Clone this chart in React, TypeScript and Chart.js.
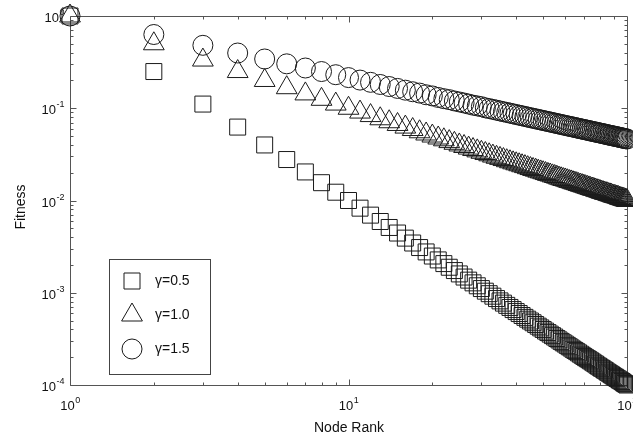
import React, { useEffect, useRef } from 'react';
import { Chart, registerables } from 'chart.js';

Chart.register(...registerables);

const ranks = [
  1, 2, 3, 4, 5, 6, 7, 8, 9, 10, 11, 12, 13, 14, 15, 16, 17, 18, 19, 20,
  21, 22, 23, 24, 25, 26, 27, 28, 29, 30, 31, 32, 33, 34, 35, 36, 37, 38, 39, 40,
  41, 42, 43, 44, 45, 46, 47, 48, 49, 50, 51, 52, 53, 54, 55, 56, 57, 58, 59, 60,
  61, 62, 63, 64, 65, 66, 67, 68, 69, 70, 71, 72, 73, 74, 75, 76, 77, 78, 79, 80,
  81, 82, 83, 84, 85, 86, 87, 88, 89, 90, 91, 92, 93, 94, 95, 96, 97, 98, 99, 100,
];

const fitnessGamma05 = [
  1, 0.25, 0.111, 0.0625, 0.04, 0.0278, 0.0204, 0.0156, 0.0123, 0.01,
  0.00826, 0.00694, 0.00592, 0.0051, 0.00444, 0.00391, 0.00346, 0.00309, 0.00277, 0.0025,
  0.00227, 0.00207, 0.00189, 0.00174, 0.0016, 0.00148, 0.00137, 0.00128, 0.00119, 0.00111,
  0.00104, 0.000977, 0.000918, 0.000865, 0.000816, 0.000772, 0.00073, 0.000693, 0.000657, 0.000625,
  0.000595, 0.000567, 0.000541, 0.000517, 0.000494, 0.000473, 0.000453, 0.000434, 0.000416, 0.0004,
  0.000384, 0.00037, 0.000356, 0.000343, 0.000331, 0.000319, 0.000308, 0.000297, 0.000287, 0.000278,
  0.000269, 0.00026, 0.000252, 0.000244, 0.000237, 0.00023, 0.000223, 0.000216, 0.00021, 0.000204,
  0.000198, 0.000193, 0.000188, 0.000183, 0.000178, 0.000173, 0.000169, 0.000164, 0.00016, 0.000156,
  0.000152, 0.000149, 0.000145, 0.000142, 0.000138, 0.000135, 0.000132, 0.000129, 0.000126, 0.000123,
  0.000121, 0.000118, 0.000116, 0.000113, 0.000111, 0.000109, 0.000106, 0.000104, 0.000102, 0.0001,
];

const fitnessGamma10 = [
  1, 0.5, 0.333, 0.25, 0.2, 0.167, 0.143, 0.125, 0.111, 0.1,
  0.0909, 0.0833, 0.0769, 0.0714, 0.0667, 0.0625, 0.0588, 0.0556, 0.0526, 0.05,
  0.0476, 0.0455, 0.0435, 0.0417, 0.04, 0.0385, 0.037, 0.0357, 0.0345, 0.0333,
  0.0323, 0.0313, 0.0303, 0.0294, 0.0286, 0.0278, 0.027, 0.0263, 0.0256, 0.025,
  0.0244, 0.0238, 0.0233, 0.0227, 0.0222, 0.0217, 0.0213, 0.0208, 0.0204, 0.02,
  0.0196, 0.0192, 0.0189, 0.0185, 0.0182, 0.0179, 0.0175, 0.0172, 0.0169, 0.0167,
  0.0164, 0.0161, 0.0159, 0.0156, 0.0154, 0.0152, 0.0149, 0.0147, 0.0145, 0.0143,
  0.0141, 0.0139, 0.0137, 0.0135, 0.0133, 0.0132, 0.013, 0.0128, 0.0127, 0.0125,
  0.0123, 0.0122, 0.012, 0.0119, 0.0118, 0.0116, 0.0115, 0.0114, 0.0112, 0.0111,
  0.011, 0.0109, 0.0108, 0.0106, 0.0105, 0.0104, 0.0103, 0.0102, 0.0101, 0.01,
];

const fitnessGamma15 = [
  1, 0.63, 0.481, 0.397, 0.342, 0.303, 0.273, 0.25, 0.231, 0.215,
  0.202, 0.191, 0.181, 0.172, 0.164, 0.157, 0.151, 0.146, 0.14, 0.136,
  0.131, 0.127, 0.124, 0.12, 0.117, 0.114, 0.111, 0.108, 0.106, 0.104,
  0.101, 0.0992, 0.0972, 0.0953, 0.0935, 0.0917, 0.0901, 0.0885, 0.087, 0.0855,
  0.0841, 0.0828, 0.0815, 0.0802, 0.079, 0.0779, 0.0768, 0.0757, 0.0747, 0.0737,
  0.0727, 0.0718, 0.0709, 0.07, 0.0691, 0.0683, 0.0675, 0.0667, 0.066, 0.0652,
  0.0645, 0.0638, 0.0632, 0.0625, 0.0619, 0.0612, 0.0606, 0.06, 0.0594, 0.0589,
  0.0583, 0.0578, 0.0573, 0.0567, 0.0562, 0.0557, 0.0553, 0.0548, 0.0543, 0.0539,
  0.0534, 0.053, 0.0526, 0.0521, 0.0517, 0.0513, 0.0509, 0.0505, 0.0502, 0.0498,
  0.0494, 0.0491, 0.0487, 0.0484, 0.048, 0.0477, 0.0474, 0.047, 0.0467, 0.0464,
];

const seriesLabels = ['γ=0.5', 'γ=1.0', 'γ=1.5'];
const xTickExponents = [0, 1, 2];
const yTickExponents = [0, -1, -2, -3, -4];
const xTitle = 'Node Rank';
const yTitle = 'Fitness';

const FONT = '"Liberation Sans", Arial, Helvetica, sans-serif';
const AXIS_COLOR = '#555';
const MARK_COLOR = '#1a1a1a';
const TEXT_COLOR = '#111';

function drawPow(ctx: CanvasRenderingContext2D, exp: number, x: number, y: number, align: 'center' | 'right') {
  ctx.font = `13px ${FONT}`;
  const base = '10';
  const sup = String(exp);
  const wb = ctx.measureText(base).width;
  ctx.font = `9px ${FONT}`;
  const ws = ctx.measureText(sup).width;
  const total = wb + ws;
  const start = align === 'center' ? x - total / 2 : x - total;
  ctx.textAlign = 'left';
  ctx.textBaseline = 'alphabetic';
  ctx.fillStyle = TEXT_COLOR;
  ctx.font = `13px ${FONT}`;
  ctx.fillText(base, start, y);
  ctx.font = `9px ${FONT}`;
  ctx.fillText(sup, start + wb + 0.5, y - 7);
}

function drawMarker(ctx: CanvasRenderingContext2D, style: string, x: number, y: number) {
  ctx.beginPath();
  if (style === 'rect') {
    const h = 8;
    ctx.rect(x - h, y - h, 2 * h, 2 * h);
  } else if (style === 'triangle') {
    const r = 12;
    ctx.moveTo(x, y - r);
    ctx.lineTo(x + r * 0.866, y + r * 0.5);
    ctx.lineTo(x - r * 0.866, y + r * 0.5);
    ctx.closePath();
  } else {
    ctx.arc(x, y, 10, 0, Math.PI * 2);
  }
  ctx.stroke();
}

const framePlugin = {
  id: 'matlabFrame',
  beforeDatasetsDraw(chart: any) {
    const { ctx, chartArea: a, scales } = chart;
    const xs = scales.x;
    const ys = scales.y;
    const L = Math.round(a.left) + 0.5;
    const R = Math.round(a.right) + 0.5;
    const T = Math.round(a.top) + 0.5;
    const B = Math.round(a.bottom) + 0.5;
    ctx.save();
    ctx.strokeStyle = AXIS_COLOR;
    ctx.lineWidth = 1;
    ctx.beginPath();
    ctx.moveTo(L, T);
    ctx.lineTo(R, T);
    ctx.lineTo(R, B);
    ctx.lineTo(L, B);
    ctx.closePath();
    // x ticks
    for (let e = xTickExponents[0]; e < xTickExponents[xTickExponents.length - 1]; e++) {
      for (let k = 1; k <= 9; k++) {
        const px = Math.round(xs.getPixelForValue(k * Math.pow(10, e))) + 0.5;
        const len = k === 1 ? 6 : 3;
        ctx.moveTo(px, B);
        ctx.lineTo(px, B - len);
        ctx.moveTo(px, T);
        ctx.lineTo(px, T + len);
      }
    }
    // y ticks
    for (let e = yTickExponents[yTickExponents.length - 1]; e < yTickExponents[0]; e++) {
      for (let k = 1; k <= 9; k++) {
        const py = Math.round(ys.getPixelForValue(k * Math.pow(10, e))) + 0.5;
        const len = k === 1 ? 6 : 3;
        ctx.moveTo(L, py);
        ctx.lineTo(L + len, py);
        ctx.moveTo(R, py);
        ctx.lineTo(R - len, py);
      }
    }
    ctx.stroke();

    // tick labels
    xTickExponents.forEach((e) => {
      const px = xs.getPixelForValue(Math.pow(10, e));
      drawPow(ctx, e, px, a.bottom + 25, 'center');
    });
    yTickExponents.forEach((e) => {
      const py = ys.getPixelForValue(Math.pow(10, e));
      drawPow(ctx, e, a.left - 6, py + 6, 'right');
    });

    // titles
    ctx.fillStyle = TEXT_COLOR;
    ctx.font = `14px ${FONT}`;
    ctx.textAlign = 'center';
    ctx.textBaseline = 'middle';
    ctx.fillText(xTitle, 349, 428);
    ctx.save();
    ctx.translate(21, 207);
    ctx.rotate(-Math.PI / 2);
    ctx.fillText(yTitle, 0, 0);
    ctx.restore();

    // legend
    ctx.fillStyle = '#fff';
    ctx.fillRect(109.5, 259.5, 101, 115);
    ctx.strokeStyle = '#444';
    ctx.strokeRect(109.5, 259.5, 101, 115);
    const styles = ['rect', 'triangle', 'circle'];
    const rows = [281, 315, 349];
    ctx.strokeStyle = MARK_COLOR;
    seriesLabels.forEach((lab, i) => {
      drawMarker(ctx, styles[i], 132, rows[i]);
      ctx.fillStyle = TEXT_COLOR;
      ctx.font = `14px ${FONT}`;
      ctx.textAlign = 'left';
      ctx.textBaseline = 'middle';
      ctx.fillText(lab, 155, rows[i]);
    });
    ctx.restore();
  },
};

export default function App() {
  const ref = useRef<HTMLCanvasElement | null>(null);
  useEffect(() => {
    if (!ref.current) return;
    const mk = (vals: number[]) => ranks.map((r, i) => ({ x: r, y: vals[i] }));
    const common = {
      showLine: false,
      clip: false as any,
      pointBackgroundColor: 'rgba(0,0,0,0)',
      pointBorderColor: MARK_COLOR,
      pointBorderWidth: 1,
      pointHoverRadius: 0,
    };
    const chart = new Chart(ref.current, {
      type: 'scatter',
      data: {
        datasets: [
          { ...common, label: seriesLabels[0], data: mk(fitnessGamma05), pointStyle: 'rect', pointRadius: 11.3 },
          { ...common, label: seriesLabels[1], data: mk(fitnessGamma10), pointStyle: 'triangle', pointRadius: 12 },
          { ...common, label: seriesLabels[2], data: mk(fitnessGamma15), pointStyle: 'circle', pointRadius: 10 },
        ],
      },
      options: {
        animation: false,
        responsive: false,
        events: [],
        layout: { autoPadding: false, padding: { left: 70, right: 6, top: 16, bottom: 57 } },
        plugins: { legend: { display: false }, tooltip: { enabled: false } },
        scales: {
          x: { type: 'logarithmic', min: 1, max: 100, display: false },
          y: { type: 'logarithmic', min: 0.0001, max: 1, display: false },
        },
      },
      plugins: [framePlugin],
    });
    return () => chart.destroy();
  }, []);
  return (
    <div style={{ position: 'fixed', left: 0, top: 0, width: 633, height: 442, background: '#fff' }}>
      <canvas ref={ref} width={633} height={442} style={{ display: 'block' }} />
    </div>
  );
}
